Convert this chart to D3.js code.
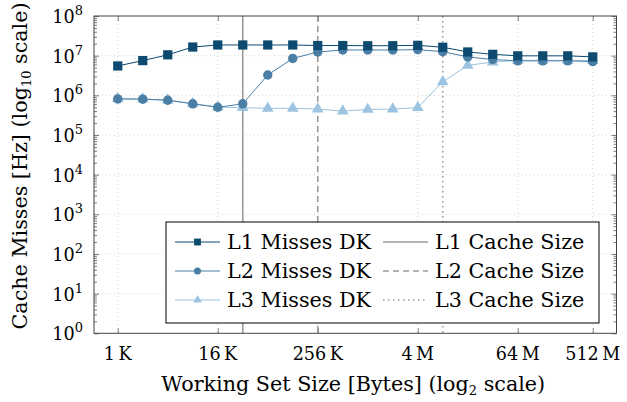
<!DOCTYPE html>
<html>
<head>
<meta charset="utf-8">
<script src="https://cdn.jsdelivr.net/npm/d3@7"></script>
<style>
  body { margin: 0; background: #fff; }
  svg { font-family: 'DejaVu Serif', serif; }
</style>
</head>
<body>
<div id="chart"></div>
<script>
// working set sizes, log2 of bytes (1K .. 512M)
const sizesLog2 = d3.range(10, 30);

const l1Misses = [5.5e6, 7.5e6, 1.05e7, 1.65e7, 1.86e7, 1.86e7, 1.86e7, 1.86e7, 1.8e7, 1.8e7,
  1.78e7, 1.78e7, 1.82e7, 1.63e7, 1.24e7, 1.08e7, 9.9e6, 9.9e6, 9.9e6, 9.3e6];
const l2Misses = [8.1e5, 8.0e5, 7.5e5, 6.1e5, 5.0e5, 6.1e5, 3.25e6, 8.5e6, 1.24e7, 1.39e7,
  1.39e7, 1.39e7, 1.42e7, 1.26e7, 9.3e6, 8.0e6, 7.4e6, 7.4e6, 7.4e6, 7.1e6];
const l3Misses = [8.3e5, 8.1e5, 7.6e5, 6.2e5, 5.0e5, 4.9e5, 4.7e5, 4.7e5, 4.5e5, 4.0e5,
  4.4e5, 4.5e5, 4.9e5, 2.2e6, 5.7e6, 6.9e6, 7.6e6, 7.6e6, 7.6e6, 7.6e6];

// cache sizes (log2 bytes): 32K, 256K, 8M
const cacheSizesLog2 = [15, 18, 23];
const cacheNames = ['L1 Cache Size', 'L2 Cache Size', 'L3 Cache Size'];
const seriesNames = ['L1 Misses DK', 'L2 Misses DK', 'L3 Misses DK'];

const xTickLog2 = [10, 14, 18, 22, 26, 29];
const xTickLabels = ['1\u2009K', '16\u2009K', '256\u2009K', '4\u2009M', '64\u2009M', '512\u2009M'];
const yTickExps = [0, 1, 2, 3, 4, 5, 6, 7, 8];

const width = 627;
const height = 402;
const plot = { left: 94, right: 616.5, top: 16, bottom: 333.3 };

const colors = ['#0d4a70', '#4a7ea5', '#9cc3e0'];
const cacheDash = [null, '6,4', '1.5,3.5'];

const svg = d3.select('#chart')
  .append('svg')
  .attr('width', width)
  .attr('height', height);

const xScale = d3.scaleLinear([9.05, 29.95], [plot.left, plot.right]);
const yScale = d3.scaleLog([1, 1e8], [plot.bottom, plot.top]);

// grid
const grid = svg.append('g')
  .attr('stroke', '#c8c8c8')
  .attr('stroke-width', 0.8)
  .attr('stroke-dasharray', '1,3');

grid.selectAll('line.gx')
  .data(xTickLog2)
  .join('line')
  .attr('x1', (d) => xScale(d))
  .attr('x2', (d) => xScale(d))
  .attr('y1', plot.top)
  .attr('y2', plot.bottom);

grid.selectAll('line.gy')
  .data(yTickExps.slice(1, -1))
  .join('line')
  .attr('class', 'gy')
  .attr('x1', plot.left)
  .attr('x2', plot.right)
  .attr('y1', (d) => yScale(10 ** d))
  .attr('y2', (d) => yScale(10 ** d));

// axes with inward ticks
const xAxisBottom = d3.axisTop(xScale)
  .tickValues(xTickLog2)
  .tickSize(5)
  .tickFormat('');
const xAxisTop = d3.axisBottom(xScale)
  .tickValues(xTickLog2)
  .tickSize(5)
  .tickFormat('');

const minorY = [];
yTickExps.slice(0, -1).forEach((e) => {
  for (let m = 2; m <= 9; m += 1) minorY.push(m * 10 ** e);
});

const yAxisLeft = d3.axisRight(yScale)
  .tickValues(yTickExps.map((e) => 10 ** e))
  .tickSize(5)
  .tickFormat('');
const yAxisRight = d3.axisLeft(yScale)
  .tickValues(yTickExps.map((e) => 10 ** e))
  .tickSize(5)
  .tickFormat('');
const yMinorLeft = d3.axisRight(yScale).tickValues(minorY).tickSize(3).tickFormat('');
const yMinorRight = d3.axisLeft(yScale).tickValues(minorY).tickSize(3).tickFormat('');

const axisColor = '#444';
function styleAxis(g) {
  g.select('.domain').remove();
  g.selectAll('.tick line').attr('stroke', axisColor).attr('stroke-width', 0.7);
}

svg.append('g').attr('transform', `translate(0,${plot.bottom})`).call(xAxisBottom).call(styleAxis);
svg.append('g').attr('transform', `translate(0,${plot.top})`).call(xAxisTop).call(styleAxis);
svg.append('g').attr('transform', `translate(${plot.left},0)`).call(yAxisLeft).call(styleAxis);
svg.append('g').attr('transform', `translate(${plot.right},0)`).call(yAxisRight).call(styleAxis);
svg.append('g').attr('transform', `translate(${plot.left},0)`).call(yMinorLeft).call(styleAxis);
svg.append('g').attr('transform', `translate(${plot.right},0)`).call(yMinorRight).call(styleAxis);

// cache size lines
svg.append('g')
  .selectAll('line')
  .data(cacheSizesLog2)
  .join('line')
  .attr('x1', (d) => xScale(d))
  .attr('x2', (d) => xScale(d))
  .attr('y1', plot.top)
  .attr('y2', plot.bottom)
  .attr('stroke', '#9a9a9a')
  .attr('stroke-width', 1.6)
  .attr('stroke-dasharray', (d, i) => cacheDash[i]);

// series
const seriesData = [l1Misses, l2Misses, l3Misses].map((vals) => vals.map((v, i) => [sizesLog2[i], v]));
const symbols = [d3.symbolSquare, d3.symbolCircle, d3.symbolTriangle];
const symbolSizes = [85, 70, 60];

const line = d3.line()
  .x(([x]) => xScale(x))
  .y(([, y]) => yScale(y));

// draw L3 first so L1 ends on top
[2, 1, 0].forEach((k) => {
  const g = svg.append('g');
  g.append('path')
    .datum(seriesData[k])
    .attr('fill', 'none')
    .attr('stroke', colors[k])
    .attr('stroke-width', 1)
    .attr('d', line);
  g.selectAll('path.mark')
    .data(seriesData[k])
    .join('path')
    .attr('class', 'mark')
    .attr('transform', ([x, y]) => `translate(${xScale(x)},${yScale(y)})`)
    .attr('d', d3.symbol(symbols[k], symbolSizes[k]))
    .attr('fill', colors[k]);
});

// frame
svg.append('rect')
  .attr('x', plot.left)
  .attr('y', plot.top)
  .attr('width', plot.right - plot.left)
  .attr('height', plot.bottom - plot.top)
  .attr('fill', 'none')
  .attr('stroke', axisColor)
  .attr('stroke-width', 1);

// tick labels
const tickSize = 17.6;
const textSize = 20.7;
const supSize = 13;
svg.append('g')
  .attr('font-size', tickSize)
  .attr('text-anchor', 'middle')
  .selectAll('text')
  .data(xTickLog2)
  .join('text')
  .attr('x', (d) => xScale(d))
  .attr('y', 360)
  .attr('word-spacing', 2)
  .text((d, i) => xTickLabels[i]);

const yLabels = svg.append('g')
  .attr('font-size', tickSize)
  .attr('text-anchor', 'end')
  .selectAll('text')
  .data(yTickExps)
  .join('text')
  .attr('x', 83)
  .attr('y', (d) => yScale(10 ** d) + 7);
yLabels.append('tspan').text('10');
yLabels.append('tspan')
  .attr('font-size', supSize)
  .attr('dy', -8)
  .text((d) => d);

// axis titles
const xTitle = svg.append('text')
  .attr('x', (plot.left + plot.right) / 2 - 2)
  .attr('y', 391)
  .attr('font-size', textSize)
  .attr('text-anchor', 'middle');
xTitle.append('tspan').text('Working Set Size [Bytes] (log');
xTitle.append('tspan').attr('font-size', supSize).attr('dy', 4).text('2');
xTitle.append('tspan').attr('dy', -4).text(' scale)');

const yTitle = svg.append('text')
  .attr('transform', 'translate(27,166) rotate(-90)')
  .attr('font-size', textSize)
  .attr('text-anchor', 'middle');
yTitle.append('tspan').text('Cache Misses [Hz] (log');
yTitle.append('tspan').attr('font-size', supSize).attr('dy', 4).text('10');
yTitle.append('tspan').attr('dy', -4).text(' scale)');

// legend
const legend = svg.append('g');
legend.append('rect')
  .attr('x', 166)
  .attr('y', 222)
  .attr('width', 433)
  .attr('height', 101)
  .attr('fill', '#fff')
  .attr('stroke', '#000')
  .attr('stroke-width', 1);

const rowY = [242, 271, 300];
const legendSeries = legend.selectAll('g.s')
  .data(seriesNames)
  .join('g')
  .attr('transform', (d, i) => `translate(0,${rowY[i]})`);
legendSeries.append('line')
  .attr('x1', 175).attr('x2', 220)
  .attr('stroke', (d, i) => colors[i])
  .attr('stroke-width', 1.2);
legendSeries.append('path')
  .attr('transform', 'translate(197.5,0)')
  .attr('d', (d, i) => d3.symbol(symbols[i], symbolSizes[i] * 0.55)())
  .attr('fill', (d, i) => colors[i]);
legendSeries.append('text')
  .attr('x', 227)
  .attr('y', 6.5)
  .attr('font-size', textSize)
  .text((d) => d);

const legendCache = legend.selectAll('g.c')
  .data(cacheNames)
  .join('g')
  .attr('transform', (d, i) => `translate(0,${rowY[i]})`);
legendCache.append('line')
  .attr('x1', 383).attr('x2', 428)
  .attr('stroke', '#9a9a9a')
  .attr('stroke-width', 1.6)
  .attr('stroke-dasharray', (d, i) => cacheDash[i]);
legendCache.append('text')
  .attr('x', 435)
  .attr('y', 6.5)
  .attr('font-size', textSize)
  .text((d) => d);
</script>
</body>
</html>
